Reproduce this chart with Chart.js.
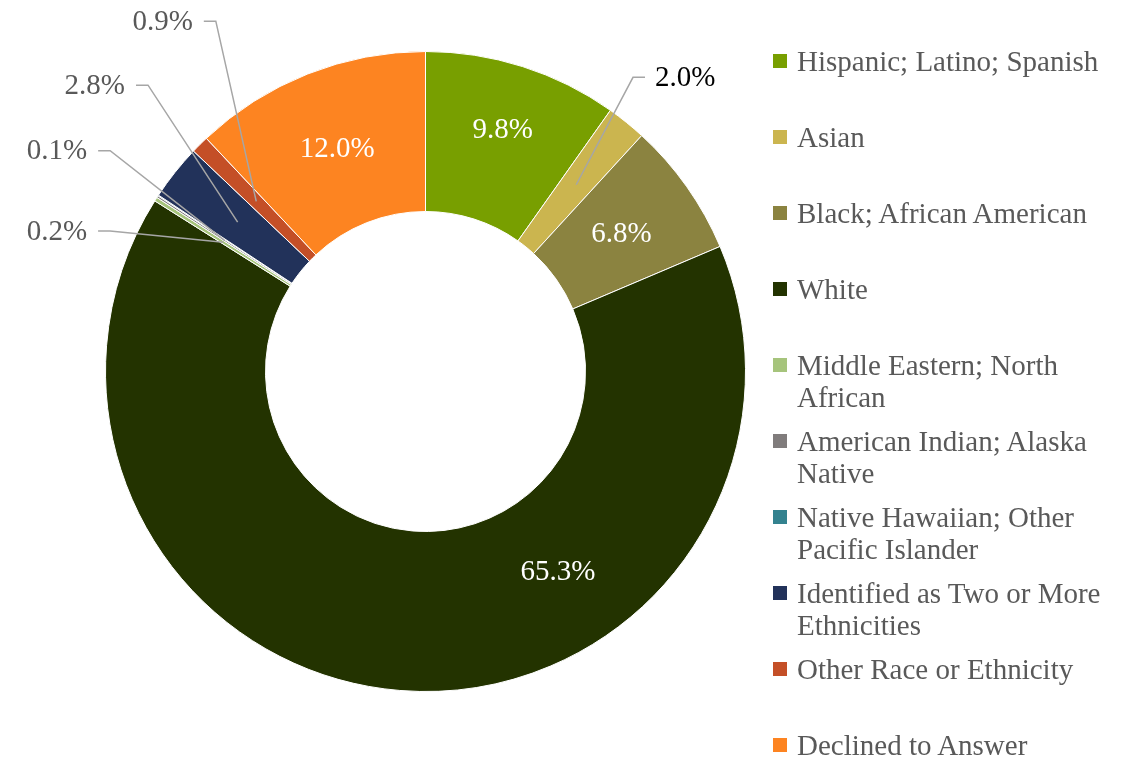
<!DOCTYPE html>
<html lang="en">
<head>
  <meta charset="UTF-8" />
  <title>Ethnicity Breakdown</title>
  <style>
    body { margin: 0; background: #fff; }
    .wrap { position: relative; width: 1132px; height: 759px; overflow: hidden; }
    #legend { position: absolute; left: 773px; top: 45px; margin: 0; padding: 0; list-style: none;
      font-family: "Liberation Serif", "Times New Roman", serif; font-size: 29px; line-height: 32px; color: #595959; }
    #legend li { position: relative; height: 76px; padding-left: 24px; white-space: nowrap; }
    #legend li span.sw { position: absolute; left: 0; top: 9px; width: 14px; height: 14px; }
  </style>
</head>
<body>
  <div class="wrap">
    <canvas id="pie" width="1132" height="759"></canvas>
    <ul id="legend"></ul>
  </div>
  <script src="https://cdn.jsdelivr.net/npm/chart.js"></script>
  <script>
    // categories (multi-line ones split the way the legend shows them)
    const categories = [
      'Hispanic; Latino; Spanish',
      'Asian',
      'Black; African American',
      'White',
      ['Middle Eastern; North', 'African'],
      ['American Indian; Alaska', 'Native'],
      ['Native Hawaiian; Other', 'Pacific Islander'],
      ['Identified as Two or More', 'Ethnicities'],
      'Other Race or Ethnicity',
      'Declined to Answer'
    ];
    // percent of respondents (Native Hawaiian too small to get a label)
    const percents = [9.8, 2.0, 6.8, 65.3, 0.2, 0.1, 0.04, 2.8, 0.9, 12.0];
    const valueLabels = ['9.8%', '2.0%', '6.8%', '65.3%', '0.2%', '0.1%', '', '2.8%', '0.9%', '12.0%'];

    const colors = ['#789f00', '#cbb54f', '#8b8340', '#233300', '#a6c47c',
                    '#807c7c', '#34828f', '#22325a', '#c44f27', '#fd8421'];

    // where each value label goes: inside the ring, or outside with a leader line
    // (angle in degrees on screen, r as a fraction of the outer radius)
    const labelSpots = [
      { pos: 'in', r: 0.795 },
      { pos: 'out', angle: -54.8, r: 1.125, color: '#000' },
      { pos: 'in' },
      { pos: 'in', angle: 56.5 },
      { pos: 'out', angle: -156.0, r: 1.079 },
      { pos: 'out', angle: -145.0, r: 1.203 },
      null,
      { pos: 'out', angle: -134.1, r: 1.246 },
      { pos: 'out', angle: -120.9, r: 1.276 },
      { pos: 'in' }
    ];

    const FONT = '29px "Liberation Serif", "Times New Roman", serif';

    const labelPlugin = {
      id: 'sliceLabels',
      afterDatasetsDraw(chart) {
        const ctx = chart.ctx;
        const meta = chart.getDatasetMeta(0);
        ctx.save();
        ctx.font = FONT;
        ctx.textBaseline = 'middle';
        meta.data.forEach((arc, i) => {
          const spot = labelSpots[i];
          if (!spot || !valueLabels[i]) return;
          const p = arc.getProps(['x', 'y', 'startAngle', 'endAngle', 'innerRadius', 'outerRadius'], true);
          const mid = (p.startAngle + p.endAngle) / 2;
          const midR = (p.innerRadius + p.outerRadius) / 2;
          if (spot.pos === 'in') {
            const a = spot.angle !== undefined ? spot.angle * Math.PI / 180 : mid;
            const r = spot.r !== undefined ? spot.r * p.outerRadius : midR;
            ctx.fillStyle = '#fff';
            ctx.textAlign = 'center';
            ctx.fillText(valueLabels[i], p.x + r * Math.cos(a), p.y + r * Math.sin(a) + 1);
            return;
          }
          // leader line: slice middle -> elbow -> short horizontal tail
          const ax = p.x + midR * Math.cos(mid);
          const ay = p.y + midR * Math.sin(mid);
          const ea = spot.angle * Math.PI / 180;
          const ex = p.x + spot.r * p.outerRadius * Math.cos(ea);
          const ey = p.y + spot.r * p.outerRadius * Math.sin(ea);
          const right = ex > p.x;
          const tx = right ? ex + 12 : ex - 12;
          ctx.strokeStyle = '#a6a6a6';
          ctx.lineWidth = 1.5;
          ctx.beginPath();
          ctx.moveTo(ax, ay);
          ctx.lineTo(ex, ey);
          ctx.lineTo(tx, ey);
          ctx.stroke();
          ctx.fillStyle = spot.color || '#595959';
          ctx.textAlign = right ? 'left' : 'right';
          ctx.fillText(valueLabels[i], right ? tx + 10 : tx - 11, ey + 1);
        });
        ctx.restore();
      }
    };

    new Chart(document.getElementById('pie'), {
      type: 'doughnut',
      data: {
        labels: categories,
        datasets: [{
          data: percents,
          backgroundColor: colors,
          borderColor: '#fff',
          borderWidth: 1
        }]
      },
      options: {
        responsive: false,
        devicePixelRatio: 1,
        animation: false,
        events: [],
        cutout: '50%',
        layout: { padding: { left: 105, top: 51, right: 386, bottom: 67 } },
        plugins: {
          legend: { display: false },
          tooltip: { enabled: false }
        }
      },
      plugins: [labelPlugin]
    });

    // legend built from the same arrays
    const legend = document.getElementById('legend');
    categories.forEach((c, i) => {
      const li = document.createElement('li');
      const sw = document.createElement('span');
      sw.className = 'sw';
      sw.style.background = colors[i];
      li.appendChild(sw);
      const lines = Array.isArray(c) ? c : [c];
      lines.forEach((line, k) => {
        if (k) li.appendChild(document.createElement('br'));
        li.appendChild(document.createTextNode(line));
      });
      legend.appendChild(li);
    });
  </script>
</body>
</html>
